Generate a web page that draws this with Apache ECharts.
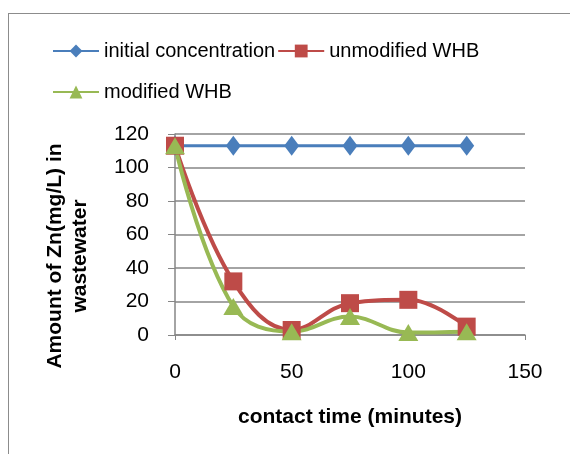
<!DOCTYPE html>
<html>
<head>
<meta charset="utf-8">
<script src="https://cdn.jsdelivr.net/npm/echarts@6/dist/echarts.min.js"></script>
<style>
html,body{margin:0;padding:0;background:#fff;}
#frame{position:absolute;left:8px;top:13px;width:600px;height:500px;border:1.5px solid #8c8c8c;}
#main{position:absolute;left:0;top:0;width:570px;height:454px;}
</style>
</head>
<body>
<div id="frame"></div>
<div id="main"></div>
<script>
// 接触时间 (分钟)
var times=[0,25,50,75,100,125];
var initialConc=[113,113,113,113,113,113];
var unmodifiedWHB=[113,32,3,19,21,5];
var modifiedWHB=[113,17,2,11,1.5,2];

var myChart=echarts.init(document.getElementById('main'));
function pairs(vals){
    return times.map(function(t,i){return [t,vals[i]];});
}
var font='Liberation Sans, Arial, sans-serif';
var option={
    animation:false,
    textStyle:{fontFamily:font},
    legend:[{
        data:['initial concentration','unmodified WHB'],
        left:47,top:36,itemGap:2,itemWidth:46,itemHeight:16,
        textStyle:{fontSize:20,color:'#000',fontFamily:font}
    },{
        data:['modified WHB'],
        left:47,top:77,itemWidth:46,itemHeight:16,
        textStyle:{fontSize:20,color:'#000',fontFamily:font}
    }],
    grid:{left:175,right:45,top:134,bottom:119},
    xAxis:{
        type:'value',min:0,max:150,interval:50,
        name:'contact time (minutes)',nameLocation:'middle',nameGap:72,
        nameTextStyle:{fontSize:21,fontWeight:'bold',color:'#000',fontFamily:font},
        axisLine:{lineStyle:{color:'#868686',width:1.5}},
        axisTick:{show:true,length:5,lineStyle:{color:'#868686'}},
        axisLabel:{fontSize:21,color:'#000',margin:27,fontFamily:font},
        splitLine:{show:false}
    },
    yAxis:{
        type:'value',min:0,max:120,interval:20,
        name:'Amount of Zn(mg/L) in\nwastewater',nameLocation:'middle',nameGap:82,
        nameTextStyle:{fontSize:21,fontWeight:'bold',color:'#000',fontFamily:font,lineHeight:25,padding:[0,43,0,0]},
        axisLine:{show:true,lineStyle:{color:'#868686',width:1.5}},
        axisTick:{show:true,length:7,lineStyle:{color:'#868686'}},
        axisLabel:{fontSize:21,color:'#000',margin:26,fontFamily:font},
        splitLine:{lineStyle:{color:'#868686',width:1.5}}
    },
    series:[{
        name:'initial concentration',type:'line',data:pairs(initialConc),
        symbol:'diamond',symbolSize:[15,20],
        itemStyle:{color:'#4a7ebb'},lineStyle:{width:3,color:'#4a7ebb'}
    },{
        name:'unmodified WHB',type:'line',data:pairs(unmodifiedWHB),smooth:0.4,
        symbol:'rect',symbolSize:18,
        itemStyle:{color:'#be4b48'},lineStyle:{width:4,color:'#be4b48'}
    },{
        name:'modified WHB',type:'line',data:pairs(modifiedWHB),smooth:0.4,
        symbol:'triangle',symbolSize:[20,17],
        itemStyle:{color:'#98b954'},lineStyle:{width:4,color:'#98b954'}
    }]
};
myChart.setOption(option);
</script>
</body>
</html>
